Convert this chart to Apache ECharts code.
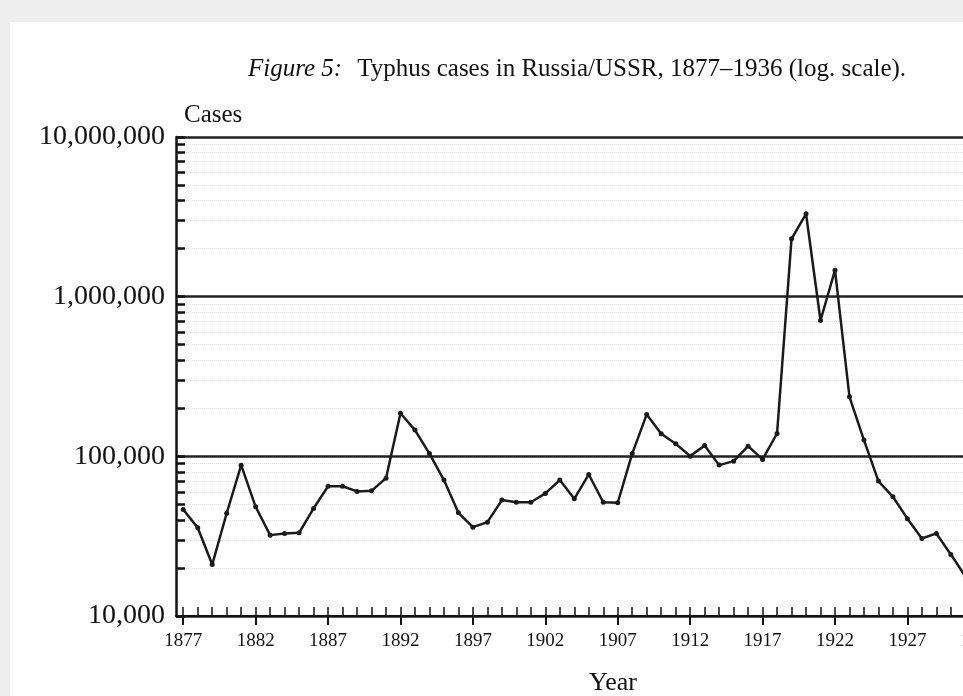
<!DOCTYPE html>
<html>
<head>
<meta charset="utf-8">
<script src="https://cdn.jsdelivr.net/npm/echarts@6/dist/echarts.min.js"></script>
<style>
html,body{margin:0;padding:0;background:#fff;}
#c{width:963px;height:696px;}
</style>
</head>
<body>
<div id="c"></div>
<script>
const years = [1877,1878,1879,1880,1881,1882,1883,1884,1885,1886,1887,1888,1889,1890,1891,1892,1893,1894,1895,1896,1897,1898,1899,1900,1901,1902,1903,1904,1905,1906,1907,1908,1909,1910,1911,1912,1913,1914,1915,1916,1917,1918,1919,1920,1921,1922,1923,1924,1925,1926,1927,1928,1929,1930,1931];
const cases = [46500,35700,21000,44000,88000,48300,32100,32900,33200,47200,65000,65000,60300,60800,73000,186000,146000,104000,71000,44300,36000,38700,53200,51600,51600,58600,71000,54200,77000,51600,51200,104000,183000,138500,119900,100300,117000,88100,93300,115800,95700,139000,2305000,3305000,709000,1465000,236000,126400,70000,55800,40700,30600,32900,24300,17700];
const majorYears = [1877,1882,1887,1892,1897,1902,1907,1912,1917,1922,1927,1932];
const allYears = [];
for (let y = 1877; y <= 1936; y++) allYears.push(y);

const chart = echarts.init(document.getElementById('c'));
const serif = 'Liberation Serif';
chart.setOption({
  backgroundColor: '#ffffff',
  animation: false,
  graphic: [
    {type:'rect', shape:{x:0,y:0,width:963,height:22}, style:{fill:'#eeeeee'}, silent:true},
    {type:'rect', shape:{x:0,y:0,width:10,height:696}, style:{fill:'#eeeeee'}, silent:true}
  ],
  title: [
    {
      text: '{i|Figure 5:}   {n|Typhus cases in Russia/USSR, 1877–1936 (log. scale).}',
      left: 243, top: 52,
      textStyle: {
        fontWeight: 'normal',
        rich: {
          i: {fontFamily: serif, fontStyle: 'italic', fontWeight: 'normal', fontSize: 25, color: '#111'},
          n: {fontFamily: serif, fontWeight: 'normal', fontSize: 25, color: '#111'}
        }
      }
    },
    {text: 'Cases', left: 179, top: 98, textStyle:{fontFamily: serif, fontSize: 25, fontWeight: 'normal', color:'#111'}},
    {text: 'Year', left: 584, top: 665, textStyle:{fontFamily: serif, fontSize: 26, fontWeight: 'normal', color:'#111'}}
  ],
  grid: {left: 176, top: 137, width: 869, height: 479, containLabel: false, outerBoundsMode: 'none'},
  xAxis: [
    {
      type: 'value', min: 1876.5, max: 1936.5, position: 'bottom',
      axisLine: {show: true, lineStyle: {color:'#111', width: 2}},
      axisTick: {show: true, customValues: majorYears, inside: false, length: 9, lineStyle:{color:'#111', width: 2}},
      axisLabel: {show: true, customValues: majorYears, margin: 16, fontFamily: serif, fontSize: 19, color:'#111', formatter: v => String(Math.round(v))},
      splitLine: {show: false}
    },
    {
      type: 'value', min: 1876.5, max: 1936.5, position: 'bottom',
      axisLine: {show: false},
      axisTick: {show: true, customValues: allYears, inside: true, length: 9, lineStyle:{color:'#111', width: 1.5}},
      axisLabel: {show: false},
      splitLine: {show: false}
    }
  ],
  yAxis: {
    type: 'log', logBase: 10, min: 10000, max: 10000000,
    axisLine: {show: true, lineStyle: {color:'#111', width: 2.5}},
    axisTick: {show: true, inside: true, length: 9, lineStyle:{color:'#111', width: 2.5}},
    minorTick: {show: true, splitNumber: 9, length: 9, lineStyle:{color:'#111', width: 2.5}},
    axisLabel: {margin: 11, fontFamily: serif, fontSize: 28, color:'#111', formatter: v => Math.round(v).toLocaleString('en-US')},
    splitLine: {show: true, lineStyle: {color:'#222', width: 2.5}},
    minorSplitLine: {show: true, lineStyle: {color:'#e2e2e2', width: 1, type: 'dotted'}}
  },
  series: [{
    type: 'line',
    data: years.map((y, i) => [y, cases[i]]),
    symbol: 'circle', symbolSize: 5,
    lineStyle: {color:'#1a1a1a', width: 2.5},
    itemStyle: {color:'#1a1a1a'},
    clip: true
  }]
});
</script>
</body>
</html>
